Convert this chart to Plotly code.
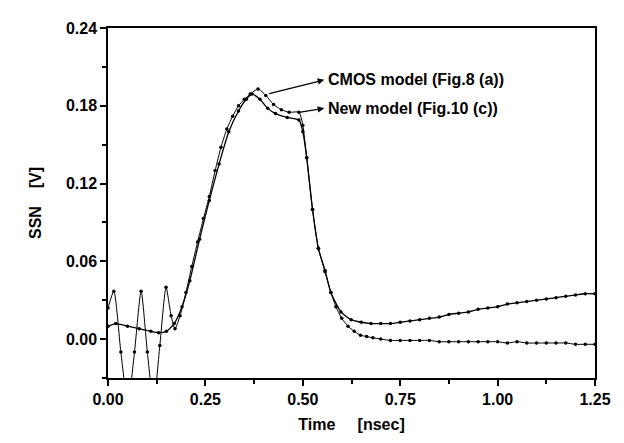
import plotly.graph_objects as go

# CMOS model (Fig.8 (a)) - ringing at start, higher peak, flat tail
cmos_x = [0.0, 0.015, 0.033, 0.051, 0.068, 0.085, 0.101, 0.117, 0.133, 0.149, 0.162, 0.172,
          0.185, 0.2, 0.215, 0.23, 0.245, 0.26, 0.275, 0.29, 0.305, 0.32, 0.335, 0.35, 0.365,
          0.385, 0.405, 0.425, 0.445, 0.465, 0.49, 0.5, 0.51, 0.525, 0.54, 0.557, 0.572, 0.585,
          0.6, 0.616, 0.632, 0.648, 0.664, 0.68, 0.7, 0.725, 0.75, 0.775, 0.8, 0.825, 0.85, 0.875,
          0.9, 0.925, 0.95, 0.975, 1.0, 1.025, 1.05, 1.075, 1.1, 1.125, 1.15, 1.175, 1.2, 1.225, 1.25]
cmos_y = [0.024, 0.037, -0.01, -0.05, -0.01, 0.037, -0.01, -0.05, -0.005, 0.04, 0.018, 0.008,
          0.018, 0.036, 0.056, 0.075, 0.093, 0.11, 0.13, 0.148, 0.162, 0.172, 0.18, 0.185, 0.189,
          0.193, 0.188, 0.181, 0.177, 0.175, 0.175, 0.165, 0.14, 0.1, 0.07, 0.052, 0.036, 0.025,
          0.016, 0.01, 0.006, 0.003, 0.002, 0.001, 0.0, -0.001, -0.001, -0.001, -0.001, -0.001, -0.002, -0.002,
          -0.002, -0.002, -0.002, -0.002, -0.002, -0.003, -0.002, -0.003, -0.003, -0.003, -0.003, -0.003, -0.004, -0.004, -0.004]

# New model (Fig.10 (c)) - smooth start, rising tail
new_x = [0.0, 0.02, 0.05, 0.08, 0.11, 0.13, 0.15, 0.17, 0.19, 0.21, 0.235, 0.26, 0.285, 0.31,
         0.335, 0.355, 0.37, 0.39, 0.41, 0.43, 0.46, 0.49, 0.5, 0.51, 0.525, 0.54, 0.557, 0.572,
         0.598, 0.624, 0.65, 0.675, 0.7, 0.725, 0.75, 0.775, 0.8, 0.825, 0.85, 0.875, 0.9, 0.925,
         0.95, 0.975, 1.0, 1.025, 1.05, 1.075, 1.1, 1.125, 1.15, 1.175, 1.2, 1.225, 1.25]
new_y = [0.01, 0.012, 0.01, 0.008, 0.006, 0.005, 0.006, 0.012, 0.025, 0.045, 0.077, 0.107, 0.135, 0.16,
         0.176, 0.185, 0.189, 0.185, 0.178, 0.174, 0.171, 0.169, 0.16, 0.14, 0.1, 0.07, 0.053, 0.036,
         0.021, 0.015, 0.013, 0.012, 0.012, 0.012, 0.013, 0.014, 0.015, 0.016, 0.017, 0.019, 0.02, 0.021,
         0.023, 0.024, 0.025, 0.027, 0.028, 0.029, 0.03, 0.031, 0.032, 0.033, 0.034, 0.035, 0.035]

x_ticks = [0.0, 0.25, 0.5, 0.75, 1.0, 1.25]
y_ticks = [0.0, 0.06, 0.12, 0.18, 0.24]

FONT = "Liberation Sans"
FS = 16

fig = go.Figure()
fig.add_trace(go.Scatter(x=cmos_x, y=cmos_y, mode="lines+markers", name="CMOS model (Fig.8 (a))",
                         line=dict(color="black", width=1, shape="spline", smoothing=0.6),
                         marker=dict(color="black", size=3.5), cliponaxis=True))
fig.add_trace(go.Scatter(x=new_x, y=new_y, mode="lines+markers", name="New model (Fig.10 (c))",
                         line=dict(color="black", width=1.3, shape="spline", smoothing=0.6),
                         marker=dict(color="black", size=3.5), cliponaxis=True))

axis_common = dict(showline=True, linecolor="black", linewidth=1.5, mirror=True,
                   ticks="outside", ticklen=6, tickwidth=1.5, tickcolor="black",
                   showgrid=False, zeroline=False,
                   tickfont=dict(family=FONT, size=FS, color="black", weight="bold"))

fig.update_layout(
    width=624, height=443,
    margin=dict(l=100, r=37, t=14, b=73),
    paper_bgcolor="white", plot_bgcolor="white",
    showlegend=False,
    xaxis=dict(range=[0, 1.25], tickvals=x_ticks, tickformat=".2f",
               minor=dict(ticks="outside", ticklen=4, dtick=0.125, tick0=0, tickcolor="black"),
               title=dict(text="Time\u00a0\u00a0\u00a0\u00a0\u00a0[nsec]", standoff=12,
                          font=dict(family=FONT, size=FS, color="black", weight="bold")),
               **axis_common),
    yaxis=dict(range=[-0.03, 0.24], tickvals=y_ticks, tickformat=".2f",
               minor=dict(ticks="outside", ticklen=4, dtick=0.03, tick0=0, tickcolor="black"),
               title=dict(text="SSN\u00a0\u00a0\u00a0\u00a0[V]", standoff=20,
                          font=dict(family=FONT, size=FS, color="black", weight="bold")),
               **axis_common),
)

# labels
fig.add_annotation(x=0.56, y=0.2, xref="x", yref="y", text="CMOS model (Fig.8 (a))",
                   showarrow=False, xanchor="left", yanchor="middle",
                   font=dict(family=FONT, size=FS, color="black", weight="bold"))
fig.add_annotation(x=0.56, y=0.178, xref="x", yref="y", text="New model (Fig.10 (c))",
                   showarrow=False, xanchor="left", yanchor="middle",
                   font=dict(family=FONT, size=FS, color="black", weight="bold"))
# arrows (head at text side)
fig.add_annotation(x=0.555, y=0.2, ax=0.41, ay=0.189, xref="x", yref="y", axref="x", ayref="y",
                   text="", showarrow=True, arrowhead=2, arrowsize=1, arrowwidth=1.3, arrowcolor="black")
fig.add_annotation(x=0.555, y=0.178, ax=0.49, ay=0.175, xref="x", yref="y", axref="x", ayref="y",
                   text="", showarrow=True, arrowhead=2, arrowsize=1, arrowwidth=1.3, arrowcolor="black")

fig.write_html("out.html")
